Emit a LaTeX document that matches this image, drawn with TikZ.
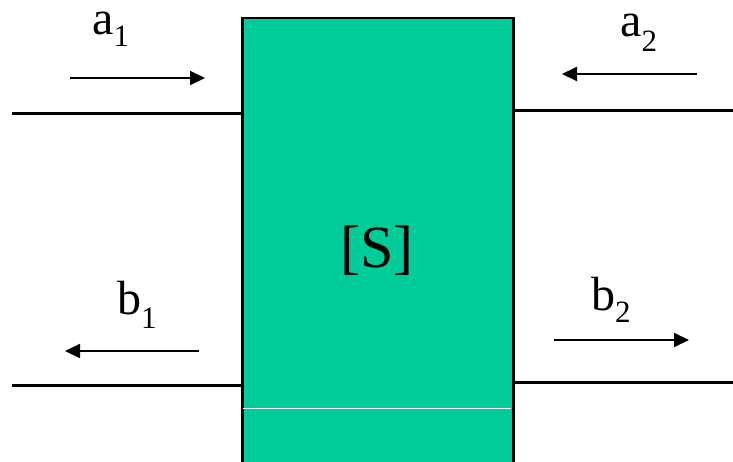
\documentclass[tikz,border=0pt]{standalone}
\usepackage{fontspec}
\setmainfont{Liberation Serif}
\usetikzlibrary{arrows.meta}
\definecolor{sgreen}{RGB}{0,204,153}
\begin{document}
\begin{tikzpicture}[x=1pt,y=-1pt,
  port/.style={line width=3pt},
  wave/.style={line width=2pt,-{Triangle[length=15pt,width=14pt]}},
  lbl/.style={anchor=base west,inner sep=0pt,text height=33pt,font=\fontsize{48}{48}\selectfont}]
\useasboundingbox (0,0) rectangle (733,462);
\node[draw=black,line width=2.5pt,fill=sgreen,inner sep=0pt,anchor=north west,
  minimum width=271pt,minimum height=445pt] (S) at (241,17) {};
\draw[white,line width=1pt] (243,408) -- (511,408);
\node[anchor=base,inner sep=0pt,font=\fontsize{60}{60}\selectfont] (Slabel) at (377,267) {[S]};
% ports
\coordinate (p1) at (12,114);
\coordinate (q1) at (12,385);
\coordinate (p2) at (733,111);
\coordinate (q2) at (733,382);
\draw[port] (p1) -- (p1 -| S.west);
\draw[port] (q1) -- (q1 -| S.west);
\draw[port] (p2) -- (p2 -| S.east);
\draw[port] (q2) -- (q2 -| S.east);
% wave arrows
\coordinate (a1s) at (70,78);  \coordinate (a1e) at (205,78);
\coordinate (a2s) at (697,74); \coordinate (a2e) at (562,74);
\coordinate (b1s) at (199,351); \coordinate (b1e) at (65,351);
\coordinate (b2s) at (554,340); \coordinate (b2e) at (689,340);
\draw[wave] (a1s) -- (a1e);
\draw[wave] (a2s) -- (a2e);
\draw[wave] (b1s) -- (b1e);
\draw[wave] (b2s) -- (b2e);
% labels
\node[lbl] (la1) at (92,35) {a\raisebox{-12pt}{\fontsize{31}{31}\selectfont 1}};
\node[lbl] (la2) at (620,37) {a\raisebox{-15pt}{\fontsize{31}{31}\selectfont 2}};
\node[lbl] (lb1) at (117,314) {b\raisebox{-14pt}{\fontsize{31}{31}\selectfont 1}};
\node[lbl] (lb2) at (591,310) {b\raisebox{-12pt}{\fontsize{31}{31}\selectfont 2}};
\end{tikzpicture}
\end{document}
